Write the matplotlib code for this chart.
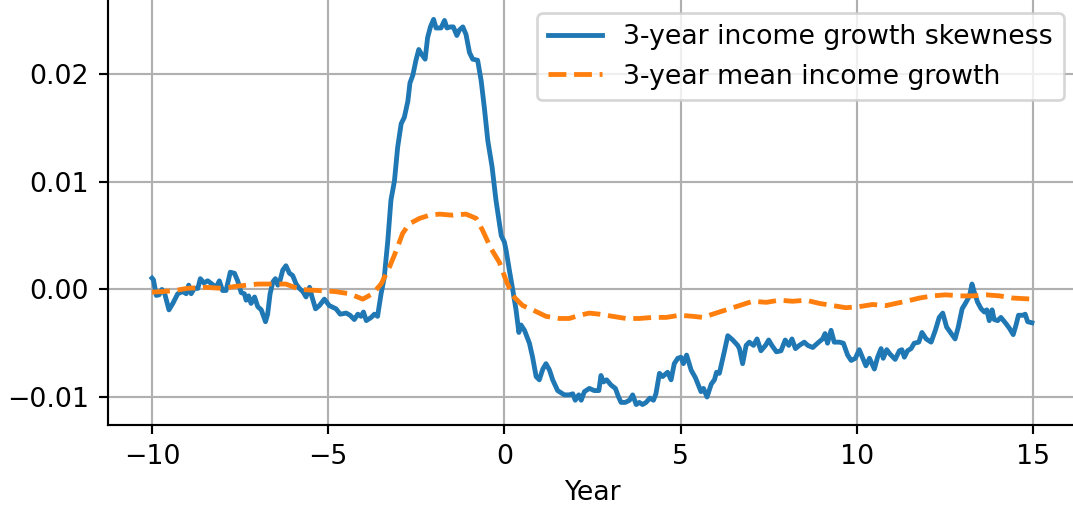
import numpy as np
import matplotlib
matplotlib.use('Agg')
import matplotlib.pyplot as plt

# 3-year income growth skewness (blue)
skew_year = [-10.0, -9.96, -9.88, -9.8, -9.72, -9.64, -9.52, -9.41, -9.27, -9.13,
             -9.03, -8.96, -8.89, -8.8, -8.7, -8.63, -8.53, -8.42, -8.3, -8.18,
             -8.09, -8.0, -7.9, -7.78, -7.66, -7.57, -7.47, -7.38, -7.33, -7.26,
             -7.19, -7.09, -7.0, -6.9, -6.78, -6.72, -6.65, -6.57, -6.5, -6.43,
             -6.37, -6.29, -6.2, -6.1, -6.01, -5.91, -5.82, -5.72, -5.63, -5.53,
             -5.46, -5.36, -5.25, -5.11, -4.97, -4.78, -4.66, -4.49, -4.38, -4.26,
             -4.16, -4.07, -4.0, -3.92, -3.78, -3.69, -3.6, -3.5, -3.41, -3.31,
             -3.22, -3.12, -3.03, -2.93, -2.84, -2.74, -2.68, -2.6, -2.51, -2.43,
             -2.36, -2.25, -2.18, -2.1, -2.01, -1.94, -1.8, -1.7, -1.63, -1.53,
             -1.45, -1.35, -1.28, -1.18, -1.09, -0.99, -0.9, -0.76, -0.66, -0.57,
             -0.47, -0.35, -0.24, -0.09, 0.0, 0.05, 0.14, 0.24, 0.33, 0.41,
             0.47, 0.57, 0.71, 0.8, 0.9, 0.99, 1.09, 1.18, 1.28, 1.37,
             1.51, 1.7, 1.84, 1.94, 2.01, 2.11, 2.18, 2.27, 2.41, 2.55,
             2.68, 2.74, 2.81, 2.9, 3.03, 3.15, 3.24, 3.31, 3.43, 3.55,
             3.64, 3.74, 3.83, 3.92, 4.02, 4.13, 4.23, 4.3, 4.4, 4.49,
             4.63, 4.73, 4.82, 4.92, 5.01, 5.08, 5.17, 5.3, 5.42, 5.58,
             5.65, 5.75, 5.87, 5.96, 6.02, 6.1, 6.24, 6.34, 6.48, 6.62,
             6.67, 6.76, 6.86, 6.95, 7.07, 7.17, 7.28, 7.41, 7.5, 7.59,
             7.72, 7.85, 7.97, 8.07, 8.16, 8.26, 8.37, 8.51, 8.61, 8.75,
             8.92, 9.03, 9.1, 9.17, 9.27, 9.36, 9.51, 9.62, 9.74, 9.84,
             9.96, 10.07, 10.17, 10.26, 10.36, 10.5, 10.59, 10.69, 10.75, 10.85,
             10.94, 11.09, 11.21, 11.28, 11.35, 11.44, 11.54, 11.63, 11.76, 11.85,
             11.97, 12.11, 12.23, 12.34, 12.44, 12.55, 12.68, 12.79, 12.88, 12.99,
             13.1, 13.2, 13.27, 13.33, 13.43, 13.53, 13.62, 13.69, 13.76, 13.84,
             13.9, 14.0, 14.09, 14.24, 14.33, 14.44, 14.52, 14.59, 14.71, 14.78,
             14.85, 14.97]
skew_val = [0.00105, 0.0009, -0.00056, -0.0005, 0.0, -0.0004, -0.0019, -0.0013, -0.0004, -0.0002,
            -0.0004, 0.0004, -0.0004, 0.0001, 0.0001, 0.001, 0.0006, 0.0008, 0.0005, 0.0002,
            0.0008, -0.0001, -0.0001, 0.0016, 0.0015, 0.0008, -0.0003, -0.0004, -0.001, -0.0006,
            -0.0013, -0.0007, -0.0016, -0.0019, -0.003, -0.0023, -0.0004, 0.0007, 0.001, 0.0004,
            0.0008, 0.0018, 0.0022, 0.0015, 0.0013, 0.0005, 0.0001, -0.0002, -0.0007, 0.0002,
            -0.0007, -0.0018, -0.0015, -0.0009, -0.0015, -0.0018, -0.0023, -0.0022, -0.0024, -0.0028,
            -0.0023, -0.0025, -0.0021, -0.0029, -0.0026, -0.0023, -0.0025, -0.0004, 0.0011, 0.0045,
            0.0083, 0.0101, 0.0132, 0.0154, 0.016, 0.0175, 0.0192, 0.0199, 0.0213, 0.0223,
            0.0219, 0.0214, 0.0234, 0.0244, 0.0251, 0.0243, 0.0243, 0.025, 0.0243, 0.0244,
            0.0244, 0.0236, 0.0241, 0.0244, 0.0237, 0.022, 0.0214, 0.0213, 0.0194, 0.0169,
            0.0138, 0.0114, 0.0083, 0.005, 0.0044, 0.0036, 0.0018, -0.0001, -0.0019, -0.004,
            -0.0033, -0.0038, -0.005, -0.0063, -0.0081, -0.0084, -0.0074, -0.0069, -0.0075, -0.0084,
            -0.0094, -0.0098, -0.0098, -0.0097, -0.0103, -0.0098, -0.0103, -0.0095, -0.0092, -0.0094,
            -0.0094, -0.008, -0.0086, -0.0084, -0.0089, -0.0092, -0.01, -0.0105, -0.0105, -0.0103,
            -0.0098, -0.0107, -0.0105, -0.0107, -0.0105, -0.0101, -0.0103, -0.0097, -0.0078, -0.0081,
            -0.0077, -0.0084, -0.0069, -0.0064, -0.0063, -0.0069, -0.0061, -0.0075, -0.0082, -0.0095,
            -0.0092, -0.01, -0.0088, -0.0084, -0.0077, -0.0078, -0.0058, -0.0043, -0.0047, -0.0052,
            -0.0055, -0.0069, -0.0052, -0.0049, -0.0052, -0.0046, -0.0057, -0.0052, -0.0047, -0.0052,
            -0.0058, -0.0057, -0.0047, -0.0052, -0.0046, -0.0055, -0.0052, -0.0049, -0.0052, -0.0054,
            -0.0049, -0.0046, -0.0041, -0.005, -0.0038, -0.0049, -0.0049, -0.005, -0.0061, -0.0066,
            -0.0064, -0.0056, -0.0064, -0.0071, -0.0064, -0.0074, -0.0063, -0.0055, -0.0064, -0.0056,
            -0.006, -0.0065, -0.0057, -0.0056, -0.0063, -0.0057, -0.0055, -0.005, -0.0049, -0.004,
            -0.0046, -0.0049, -0.0038, -0.0026, -0.0022, -0.0035, -0.0041, -0.0046, -0.0035, -0.0018,
            -0.0012, -0.0006, 0.0005, -0.0002, -0.0012, -0.0018, -0.0021, -0.0019, -0.0029, -0.0019,
            -0.0028, -0.0029, -0.0026, -0.0032, -0.0036, -0.0042, -0.0033, -0.0024, -0.0024, -0.0023,
            -0.003, -0.0031]

# 3-year mean income growth (orange, dashed)
mean_year = [-10.0, -9.7, -9.35, -9.0, -8.5, -8.0, -7.6, -7.0, -6.6, -6.2,
             -5.8, -5.3, -4.8, -4.4, -4.02, -3.74, -3.5, -3.26, -3.07, -2.89,
             -2.7, -2.41, -2.13, -1.84, -1.47, -1.09, -0.8, -0.62, -0.38, -0.14,
             0.05, 0.24, 0.52, 0.8, 1.18, 1.56, 1.84, 2.13, 2.41, 2.7,
             3.07, 3.45, 3.83, 4.21, 4.59, 4.97, 5.35, 5.63, 5.91, 6.29,
             6.67, 7.05, 7.43, 7.8, 8.18, 8.56, 8.94, 9.32, 9.69, 10.07,
             10.45, 10.83, 11.11, 11.4, 11.78, 12.15, 12.53, 12.91, 13.29, 13.67,
             14.05, 14.43, 14.97]
mean_val = [-0.00025, -0.0002, -0.0001, 0.0001, 0.0002, 0.0001, 0.0003, 0.0005, 0.0005, 0.0005,
            0.0, -0.0001, -0.0002, -0.0004, -0.0009, -0.0004, 0.0005, 0.0021, 0.0036, 0.0052,
            0.0061, 0.0066, 0.0069, 0.007, 0.0069, 0.007, 0.0066, 0.0055, 0.0038, 0.0025,
            0.0008, -0.0006, -0.0015, -0.0019, -0.0025, -0.0027, -0.0027, -0.0024, -0.0022, -0.0023,
            -0.0025, -0.0027, -0.0027, -0.0026, -0.0026, -0.0024, -0.0025, -0.0026, -0.0023, -0.0019,
            -0.0015, -0.0011, -0.0012, -0.001, -0.0011, -0.001, -0.0013, -0.0015, -0.0017, -0.0016,
            -0.0014, -0.0015, -0.0013, -0.0011, -0.0008, -0.0006, -0.0005, -0.0006, -0.0006, -0.0005,
            -0.0006, -0.0008, -0.0009]

W, H, DPI = 1073, 509, 193
fig = plt.figure(figsize=(W / DPI, H / DPI), dpi=DPI)
ax = fig.add_axes([108 / W, 84 / H, 969 / W, 425 / H])

ax.plot(skew_year, skew_val, color='#1f77b4', lw=1.8,
        label='3-year income growth skewness')
ax.plot(mean_year, mean_val, color='#ff7f0e', lw=1.8, ls='--',
        label='3-year mean income growth')

ax.set_xlim(-11.25, 16.25)
ax.set_ylim(-0.0126, 0.0269)
ax.set_xticks([-10, -5, 0, 5, 10, 15])
ax.set_yticks([-0.01, 0.0, 0.01, 0.02])
ax.set_yticklabels(['\u22120.01', '0.00', '0.01', '0.02'])
ax.set_xlabel('Year')
ax.grid(True)
ax.spines['top'].set_visible(False)
ax.spines['right'].set_visible(False)
ax.legend(loc='upper right')

fig.savefig('out.png', dpi=DPI)
